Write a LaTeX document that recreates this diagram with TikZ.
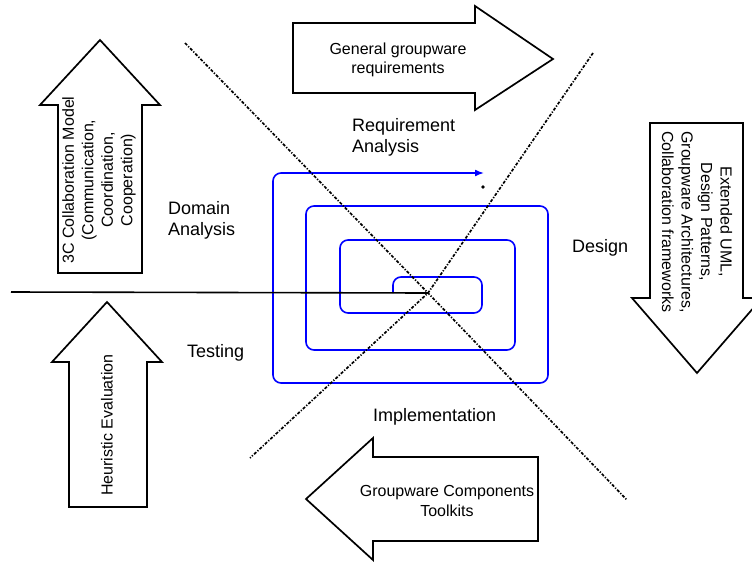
\documentclass[tikz,border=0pt]{standalone}
\usepackage{fontspec}
\setmainfont{Liberation Sans}
\usetikzlibrary{arrows.meta}
\begin{document}
\begin{tikzpicture}[x=1pt,y=-1pt,
  blockarrow/.style={draw=black,line width=1.7pt,fill=white,line join=miter},
  arrowtext/.style={font=\fontsize{16}{19.5}\selectfont,align=center,inner sep=0pt},
  phase/.style={font=\fontsize{18}{21}\selectfont,align=left,inner sep=0pt,anchor=west},
  axisline/.style={line width=1.7pt,dash pattern=on 3pt off 1.6pt on 1.2pt off 1.6pt},
  spiral/.style={draw=blue,line width=1.6pt,rounded corners=8pt},
  baseline/.style={draw=black,line width=1.6pt}]
\useasboundingbox[fill=white] (0,0) rectangle (752,565);

% block arrows
\begin{scope}
\clip (0,0) rectangle (752,565);
\draw[blockarrow] (58,273) -- (58,105) -- (40,105) -- (100,40) -- (160,105) -- (142,105) -- (142,273) -- cycle;
\draw[blockarrow] (69,507) -- (69,362) -- (52,362) -- (107,302) -- (162,362) -- (147,362) -- (147,507) -- cycle;
\draw[blockarrow] (650,123) -- (743,123) -- (743,298) -- (762,298) -- (697,373) -- (632,298) -- (650,298) -- cycle;
\draw[blockarrow] (293,23) -- (475,23) -- (475,6) -- (553,59) -- (475,110) -- (475,93) -- (293,93) -- cycle;
\draw[blockarrow] (538,457) -- (373,457) -- (373,438) -- (306,499) -- (373,560) -- (373,541) -- (538,541) -- cycle;
\end{scope}

% texts inside the block arrows
\node[arrowtext] (ggr) at (398,60) {General groupware\\requirements};
\node[arrowtext] (gct) at (447,501) {Groupware Components\\Toolkits};
\node[arrowtext,rotate=90] (ccm) at (99,180) {3C Collaboration Model\\(Communication,\\Coordination,\\Cooperation)};
\node[arrowtext,rotate=90] (heu) at (107,425) {Heuristic Evaluation};
\node[arrowtext,rotate=-90] (uml) at (697,222) {Extended UML,\\Design Patterns,\\Groupware Architectures,\\Collaboration frameworks};

% phase labels
\node[phase] (req) at (352,137) {Requirement\\Analysis};
\node[phase] (dom) at (168,220) {Domain\\Analysis};
\node[phase] (des) at (572,248) {Design};
\node[phase] (tst) at (187,353) {Testing};
\node[phase] (imp) at (373,417) {Implementation};

% spiral of iterations
\coordinate (c) at (428,293);
\coordinate (s0) at (393,293);
\coordinate (send) at (484,173);
\draw[spiral,-{Latex[length=9pt,width=7pt]}] (s0) -- (393,277) -- (482,277) -- (482,313) -- (340,313) -- (340,240) -- (515,240) -- (515,350) -- (306,350) -- (306,206) -- (548,206) -- (548,383) -- (273,383) -- (273,173) -- (send);
\fill (483,187) circle (1.9pt);

% axes
\coordinate (hl) at (11,292);
\coordinate (d1a) at (185,43);
\coordinate (d1b) at (627,500);
\coordinate (d2a) at (593,53);
\coordinate (d2b) at (250,458);
\draw[baseline] (hl) -- (c);
\draw[axisline] (d1a) -- (c) -- (d1b);
\draw[axisline] (d2a) -- (c) -- (d2b);
\end{tikzpicture}
\end{document}
